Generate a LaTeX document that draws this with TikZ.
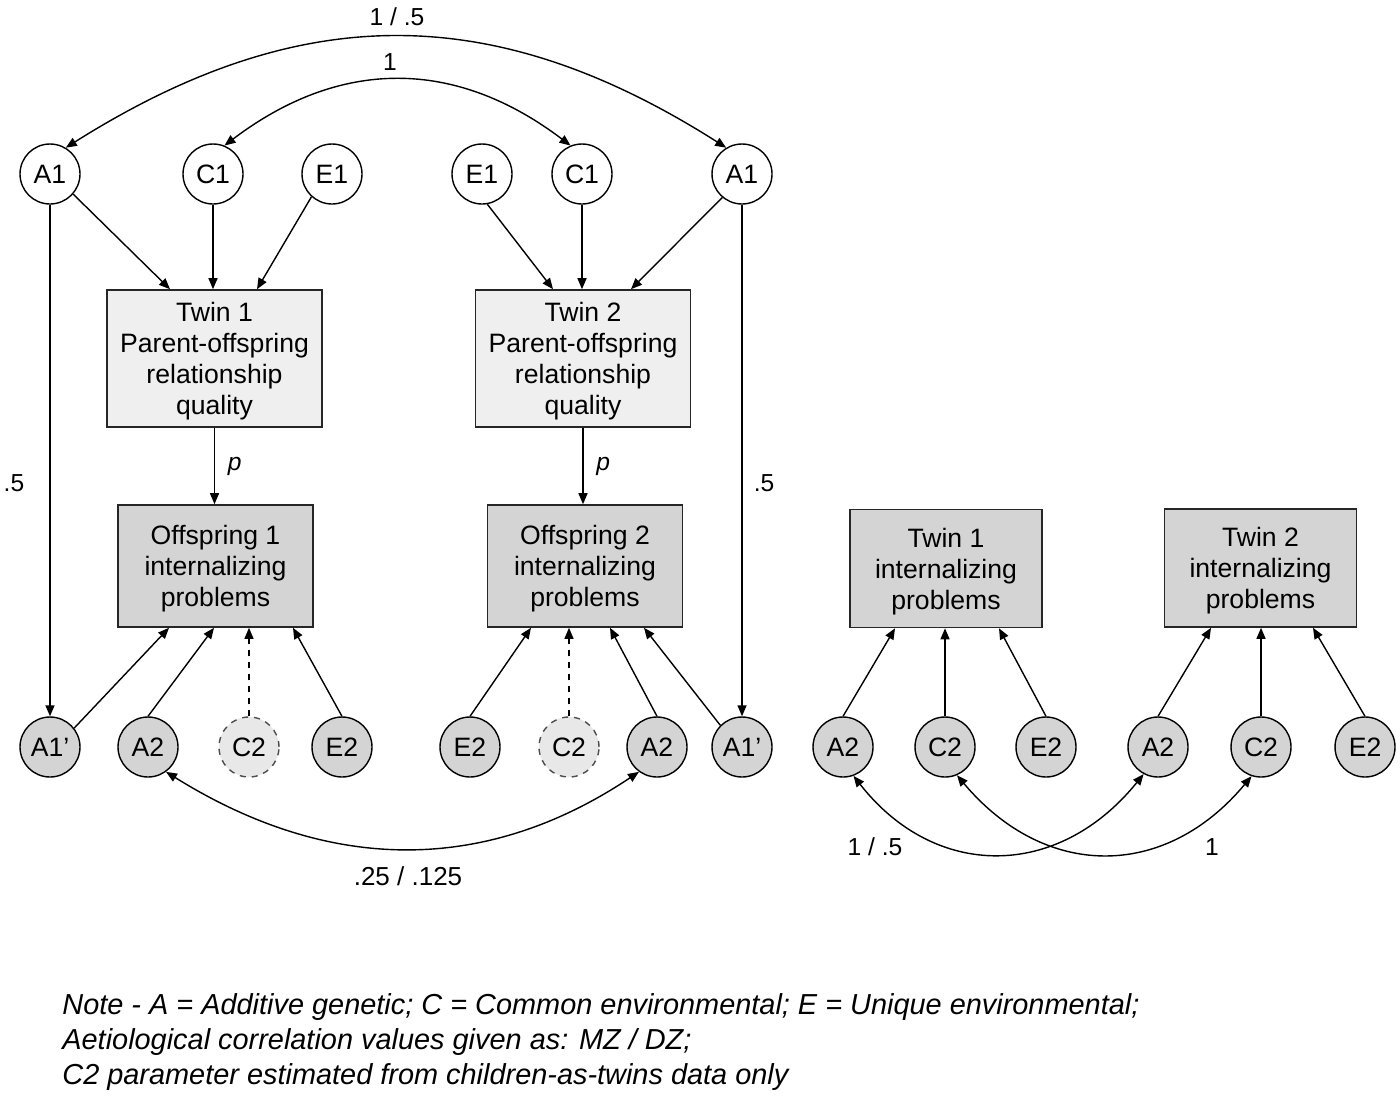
\documentclass[tikz,border=0pt]{standalone}
\usepackage{fontspec}
\setmainfont{Liberation Sans}
\usetikzlibrary{arrows.meta}
\definecolor{boxlight}{HTML}{EFEFEF}
\definecolor{boxdark}{HTML}{D4D4D4}
\definecolor{dashfill}{HTML}{E8E8E8}
\newcommand{\mytopstrut}{\rule{0pt}{12.7pt}}
\begin{document}
\begin{tikzpicture}[x=0.5pt,y=-0.5pt,
  font=\fontsize{13.3}{15.5}\selectfont,
  lat/.style={circle,draw=black,line width=0.7pt,minimum size=30pt,inner sep=0pt},
  latw/.style={lat,fill=white},
  latg/.style={lat,fill=boxdark},
  latd/.style={lat,fill=dashfill,dashed,draw=black!70},
  obs/.style={draw=black!85,line width=0.8pt,align=center,inner sep=0pt},
  obsl/.style={obs,fill=boxlight,minimum width=107.5pt,minimum height=68.5pt},
  obsd/.style={obs,fill=boxdark,minimum width=97.5pt,minimum height=61pt},
  obsr/.style={obs,fill=boxdark,minimum width=96pt,minimum height=59pt},
  path/.style={line width=0.7pt,-{Triangle[length=5.5pt,width=4.5pt]}},
  dpath/.style={path,dashed},
  cov/.style={line width=0.7pt,{Triangle[length=5.5pt,width=4.5pt]}-{Triangle[length=5.5pt,width=4.5pt]}},
  lbl/.style={inner sep=0pt,font=\fontsize{12.3}{14}\selectfont},
  note/.style={inner sep=0pt,anchor=west,font=\fontsize{14.45}{16}\itshape}
]
\useasboundingbox (0,0) rectangle (1400,1097);

% top latent factors
\node[latw] (A1a) at (50,174) {A1};
\node[latw] (C1a) at (213,174) {C1};
\node[latw] (E1a) at (332,174) {E1};
\node[latw] (E1b) at (482,174) {E1};
\node[latw] (C1b) at (582,174) {C1};
\node[latw] (A1b) at (742,174) {A1};

% boxes
\node[obsl] (Tw1) at (214.5,358.5) {\mytopstrut Twin 1\\Parent-offspring\\relationship\\quality};
\node[obsl] (Tw2) at (583,358.5) {\mytopstrut Twin 2\\Parent-offspring\\relationship\\quality};
\node[obsd] (Off1) at (215.5,566) {\mytopstrut Offspring 1\\internalizing\\problems};
\node[obsd] (Off2) at (585,566) {\mytopstrut Offspring 2\\internalizing\\problems};

% bottom latent factors (left)
\node[latg] (A1pa) at (50,747) {A1’};
\node[latg] (A2a) at (148,747) {A2};
\node[latd] (C2a) at (249,747) {C2};
\node[latg] (E2a) at (342,747) {E2};
\node[latg] (E2b) at (470,747) {E2};
\node[latd] (C2b) at (569,747) {C2};
\node[latg] (A2b) at (657,747) {A2};
\node[latg] (A1pb) at (742,747) {A1’};

% top paths
\draw[path] (A1a.-41) -- (170,0 |- Tw1.north);
\draw[path] (C1a.south) -- (C1a.south |- Tw1.north);
\draw[path] (E1a.-132) -- (257,0 |- Tw1.north);
\draw[path] (E1b.-80) -- (553,0 |- Tw2.north);
\draw[path] (C1b.south) -- (C1b.south |- Tw2.north);
\draw[path] (A1b.-130) -- (631,0 |- Tw2.north);

% A1 -> A1'
\draw[path] (A1a.south) -- (A1pa.north);
\draw[path] (A1b.south) -- (A1pb.north);
\node[lbl] (h1) at (14,483) {.5};
\node[lbl] (h2) at (764,483) {.5};

% p paths
\draw[path] (Tw1.south) -- (Tw1.south |- Off1.north) node[pos=0.5,right=3pt,font=\fontsize{12.3}{14}\itshape] {p};
\draw[path] (Tw2.south) -- (Tw2.south |- Off2.north) node[pos=0.5,right=3pt,font=\fontsize{12.3}{14}\itshape] {p};

% bottom paths left
\draw[path] (A1pa.38) -- (169,0 |- Off1.south);
\draw[path] (A2a.north) -- (214,0 |- Off1.south);
\draw[dpath] (C2a.north) -- (C2a.north |- Off1.south);
\draw[path] (E2a.north) -- (293,0 |- Off1.south);
\draw[path] (E2b.north) -- (531,0 |- Off2.south);
\draw[dpath] (C2b.north) -- (C2b.north |- Off2.south);
\draw[path] (A2b.north) -- (610,0 |- Off2.south);
\draw[path] (A1pb.135) -- (644,0 |- Off2.south);

% covariances top
\draw[cov] (A1a.59) .. controls (300,0) and (494,0) .. (A1b.121);
\node[lbl] (t1) at (397,17) {1 / .5};
\draw[cov] (C1a.68) .. controls (340,58) and (455,58) .. (C1b.112);
\node[lbl] (t2) at (390,62) {1};

% covariance bottom left
\draw[cov] (A2a.-54) .. controls (330,874) and (486,874) .. (A2b.-126);
\node[lbl,font=\fontsize{13}{14}\selectfont] (t3) at (408,876) {.25 / .125};

% right model
\node[obsr] (R1) at (946,568.5) {\mytopstrut Twin 1\\internalizing\\problems};
\node[obsr] (R2) at (1260.5,568) {\mytopstrut Twin 2\\internalizing\\problems};
\node[latg] (RA2a) at (843,747) {A2};
\node[latg] (RC2a) at (945,747) {C2};
\node[latg] (RE2a) at (1046,747) {E2};
\node[latg] (RA2b) at (1158,747) {A2};
\node[latg] (RC2b) at (1261,747) {C2};
\node[latg] (RE2b) at (1365,747) {E2};

\draw[path] (RA2a.north) -- (895,0 |- R1.south);
\draw[path] (RC2a.north) -- (RC2a.north |- R1.south);
\draw[path] (RE2a.north) -- (999,0 |- R1.south);
\draw[path] (RA2b.north) -- (1211,0 |- R2.south);
\draw[path] (RC2b.north) -- (RC2b.north |- R2.south);
\draw[path] (RE2b.north) -- (1313,0 |- R2.south);

\draw[cov] (RA2a.-70) .. controls (935,880) and (1058,880) .. (RA2b.-118);
\draw[cov] (RC2a.-67) .. controls (1045,880) and (1165,880) .. (RC2b.-108);
\node[lbl] (t4) at (875,847) {1 / .5};
\node[lbl] (t5) at (1212,847) {1};

% note
\node[note] (n1) at (62,1007) {Note - A = Additive genetic; C = Common environmental; E = Unique environmental;};
\node[note] (n2) at (62,1042) {Aetiological correlation values given as: MZ / DZ;};
\node[note] (n3) at (62,1077) {C2 parameter estimated from children-as-twins data only};
\end{tikzpicture}
\end{document}
